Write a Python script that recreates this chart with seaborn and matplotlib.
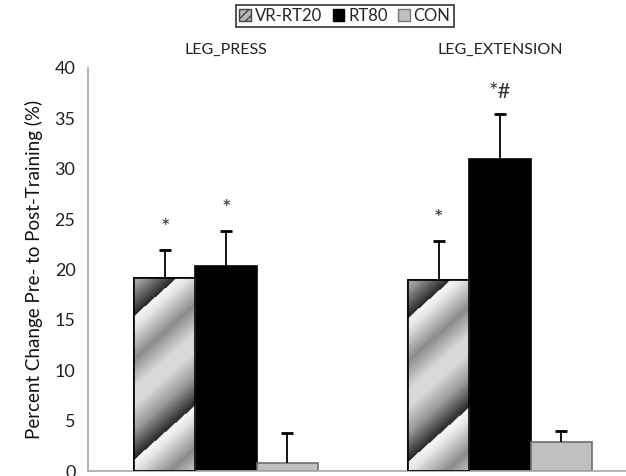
## for data
import numpy as np
import pandas as pd

## for plotting
import matplotlib.pyplot as plt
import matplotlib.patches as mpatches
import seaborn as sns


###############################################################################
## data
exercises = ["LEG_PRESS", "LEG_EXTENSION"]
groups = ["VR-RT20", "RT80", "CON"]
pct_change = {"VR-RT20": [19.2, 19.0], "RT80": [20.3, 31.0], "CON": [0.8, 2.9]}
pct_err = {"VR-RT20": [2.7, 3.8], "RT80": [3.5, 4.4], "CON": [3.0, 1.1]}
sig_marks = {"VR-RT20": ["*", "*"], "RT80": ["*", "*#"], "CON": ["", ""]}

yticks = [0, 5, 10, 15, 20, 25, 30, 35, 40]

rows = []
for g in groups:
    for i, ex in enumerate(exercises):
        rows.append({"exercise": ex, "group": g,
                     "value": pct_change[g][i], "err": pct_err[g][i],
                     "mark": sig_marks[g][i]})
df = pd.DataFrame(rows)


###############################################################################
sns.set_style("white")
plt.rcParams["font.family"] = ["Lato", "DejaVu Sans"]

fig = plt.figure(figsize=(6.26, 4.76), dpi=100)
ax = fig.add_axes([88 / 626, 5 / 476, 1 - 88 / 626, (471 - 68) / 476])

colors = {"VR-RT20": "#c8c8c8", "RT80": "#000000", "CON": "#c0c0c0"}
edges = {"VR-RT20": "#000000", "RT80": "#000000", "CON": "#6e6e6e"}

sns.barplot(data=df, x="exercise", y="value", hue="group", order=exercises,
            hue_order=groups, palette=colors, width=0.67, errorbar=None,
            linewidth=1.2, saturation=1, ax=ax, legend=False)

ax.set_xlim(-0.504, 1.46)
ax.set_ylim(0, 40)
ax.set_yticks(yticks)

## gradient stripe fill for VR-RT20 (Excel-style metallic fill)
prof_p = [0.0, 0.08, 0.3, 0.5, 0.62, 0.8, 1.0]
prof_v = [0.97, 0.9, 0.55, 0.85, 0.85, 0.6, 0.15]

for g, cont in zip(groups, ax.containers):
    sub = df[df["group"] == g].set_index("exercise").loc[exercises]
    for bar, (_, r) in zip(cont.patches, sub.iterrows()):
        bar.set_edgecolor(edges[g])
        x0, w = bar.get_x(), bar.get_width()
        xc = x0 + w / 2
        top = r["value"]
        # error bar: upward only
        ax.vlines(xc, top, top + r["err"], color="black", lw=1.3, zorder=4)
        ax.plot([xc], [top + r["err"]], marker="_", ms=9, mew=2,
                color="black", zorder=4)
        if r["mark"]:
            ax.text(xc, top + r["err"] + 1.2, r["mark"], ha="center",
                    va="bottom", fontsize=16, color="#333333")
        if g == "VR-RT20":
            (px0, py0) = ax.transData.transform((x0, 0))
            (px1, py1) = ax.transData.transform((x0 + w, top))
            wp, hp = int(round(px1 - px0)), int(round(py1 - py0))
            xx, dd = np.meshgrid(np.arange(wp), np.arange(hp))
            t = ((dd + 0.9 * xx - 38) % 143) / 143.0
            img = np.interp(t, prof_p, prof_v)
            im = ax.imshow(img, cmap="gray", vmin=0, vmax=1,
                           extent=[x0, x0 + w, 0, top], origin="upper",
                           aspect="auto", interpolation="bilinear", zorder=2.5)
            im.set_clip_path(bar)
            ax.add_patch(mpatches.Rectangle((x0, 0), w, top, fill=False,
                                            edgecolor="black", lw=1.2, zorder=3))

ax.set_xlim(-0.504, 1.46)
ax.set_ylim(0, 40)

## axes styling
ax.xaxis.tick_top()
ax.tick_params(axis="x", length=0, pad=8, labelsize=11.5, colors="#222222")
ax.tick_params(axis="y", length=5, width=1, direction="out",
               labelsize=13, pad=4, labelcolor="#222222", color="#a0a0a0")
ax.set_xlabel("")
ax.set_ylabel("Percent Change Pre- to Post-Training (%)", fontsize=13.5,
              color="#111111", labelpad=8)
for s in ["top", "right"]:
    ax.spines[s].set_visible(False)
for s in ["left", "bottom"]:
    ax.spines[s].set_color("#a8a8a8")
    ax.spines[s].set_linewidth(1.2)
ax.grid(False)

## legend
handles = [
    mpatches.Patch(facecolor="#b8b8b8", edgecolor="#444444", hatch="////",
                   label="VR-RT20"),
    mpatches.Patch(facecolor="black", edgecolor="black", label="RT80"),
    mpatches.Patch(facecolor="#c0c0c0", edgecolor="#777777", label="CON"),
]
leg = fig.legend(handles=handles, loc="center", bbox_to_anchor=(345 / 626, 1 - 16 / 476),
                 ncol=3, fontsize=12, frameon=True, fancybox=False,
                 handlelength=0.7, handleheight=0.7, handletextpad=0.25,
                 columnspacing=0.6, borderpad=0.2, borderaxespad=0)
leg.get_frame().set_edgecolor("black")
leg.get_frame().set_linewidth(1.2)

fig.savefig("out.png", dpi=100)
